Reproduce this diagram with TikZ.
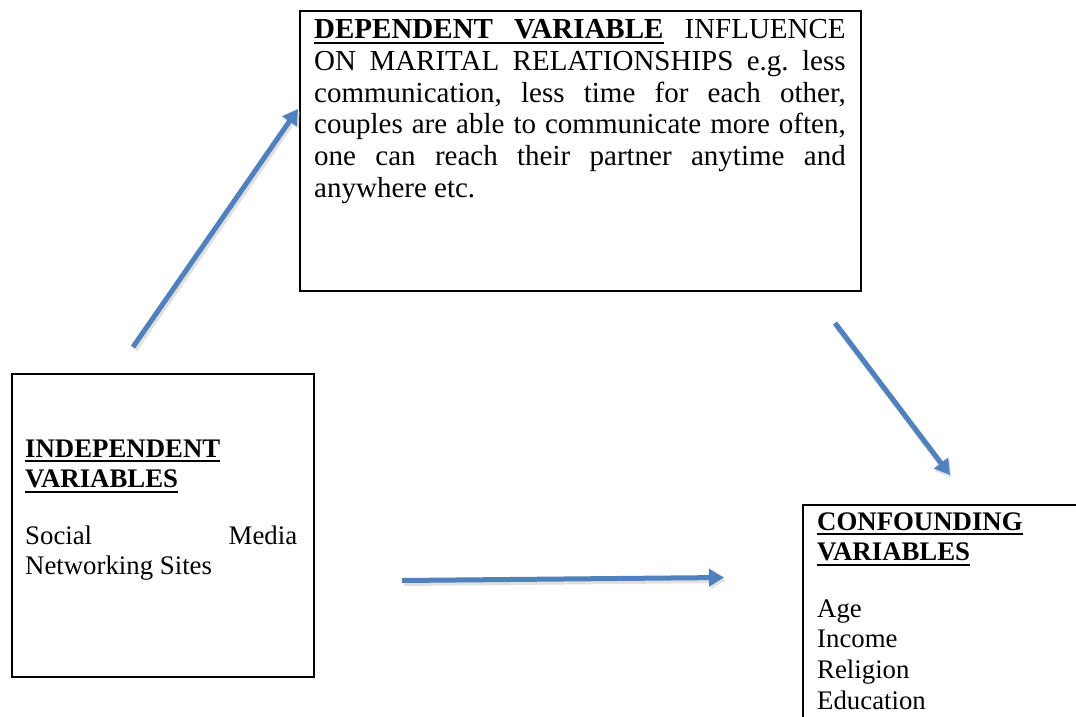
\documentclass[tikz,border=0pt]{standalone}
\usepackage{fontspec}
\setmainfont{Liberation Serif}
\usetikzlibrary{arrows.meta}
\definecolor{arrowblue}{HTML}{4F81BD}
% underline helpers
\newsavebox{\ulxbox}
\newcommand{\ulx}[1]{\leavevmode\sbox{\ulxbox}{#1}\rlap{\vrule height -2.8pt depth 5.3pt width \wd\ulxbox}\usebox{\ulxbox}}
\newcommand{\ulspace}{\leaders\vrule height -2.8pt depth 5.3pt\hskip\fontdimen2\font plus\fontdimen3\font minus\fontdimen4\font\relax}
\begin{document}
\begin{tikzpicture}[x=1pt,y=-1pt,
  box/.style={draw=black, line width=2pt, inner sep=0pt, anchor=north west},
  txt/.style={inner sep=0pt, anchor=base west, font=\fontsize{26.8}{30.7}\selectfont\frenchspacing},
  arr/.style={draw=arrowblue, line width=5pt, -{Triangle[length=15pt,width=17pt]}},
  arrshadow/.style={draw=black!12, line width=6pt, -{Triangle[length=15pt,width=18pt]}}]
\useasboundingbox (0,0) rectangle (1076,717);
\fill[white] (0,0) rectangle (1076,717);

% boxes
\node[box, minimum width=561pt, minimum height=280pt] (dep) at (299,10) {};
\node[box, minimum width=302pt, minimum height=303pt] (ind) at (11,373) {};
\begin{scope}
\clip (0,0) rectangle (1076,717);
\node[box, minimum width=300pt, minimum height=240pt] (conf) at (802,504) {};
\end{scope}

% texts
\node[txt, text width=531.5pt, align=justify, font=\fontsize{29}{31.6}\selectfont\frenchspacing] (deptext) at (314,39)
 {{\bfseries\ulx{DEPENDENT}\ulspace\ulx{VARIABLE}} INFLUENCE\linebreak
  ON MARITAL RELATIONSHIPS e.g. less\linebreak
  communication, less time for each other,\linebreak
  couples are able to communicate more often,\linebreak
  one can reach their partner anytime and\linebreak
  anywhere etc.};

\node[txt, text width=272pt, align=left] (indhead) at (25,457)
 {\bfseries\ulx{INDEPENDENT}\\\ulx{VARIABLES}};
\node[txt, text width=272pt, align=justify] (indbody) at (25,544)
 {Social Media\linebreak Networking Sites};

\node[txt, text width=250pt, align=left] (confhead) at (817,530)
 {\bfseries\ulx{CONFOUNDING}\\\ulx{VARIABLES}};
\node[txt, text width=250pt, align=left] (confbody) at (817,617)
 {Age\\Income\\Religion\\Education};

% arrows
\coordinate (a1s) at (133,347);
\coordinate (a1e) at (298,109);
\coordinate (a2s) at (402,580.5);
\coordinate (a2e) at (724,577.5);
\coordinate (a3s) at (835,323);
\coordinate (a3e) at (950,475);

\draw[arrshadow] ([shift={(1.5,2.5)}]a1s) -- ([shift={(1.5,2.5)}]a1e);
\draw[arrshadow] ([shift={(1.5,2.5)}]a2s) -- ([shift={(1.5,2.5)}]a2e);
\draw[arrshadow] ([shift={(1.5,2.5)}]a3s) -- ([shift={(1.5,2.5)}]a3e);
\draw[arr] (a1s) -- (a1e);
\draw[arr] (a2s) -- (a2e);
\draw[arr] (a3s) -- (a3e);
\end{tikzpicture}
\end{document}
